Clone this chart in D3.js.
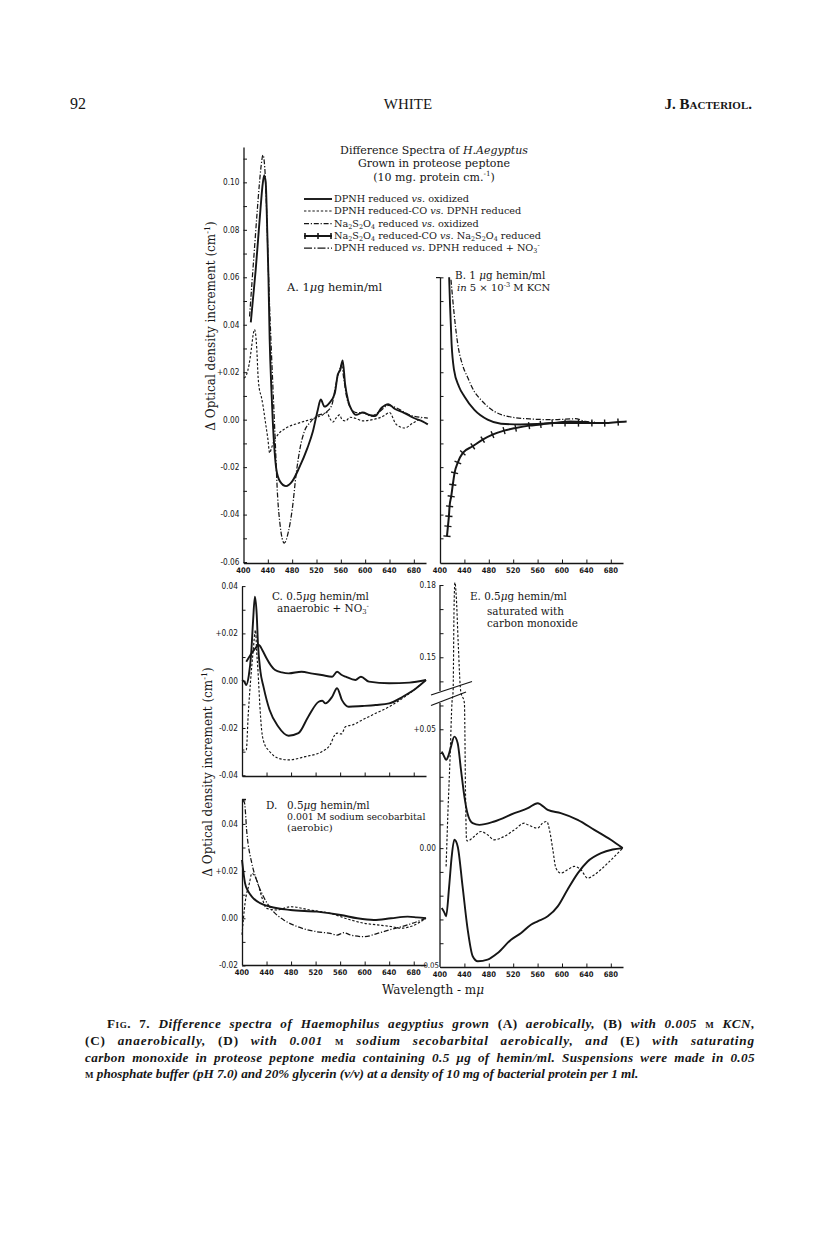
<!DOCTYPE html>
<html>
<head>
<meta charset="utf-8">
<script src="https://cdn.jsdelivr.net/npm/d3@7"></script>
<style>
  body { margin: 0; background: #fff; }
  text { fill: #161616; }
</style>
</head>
<body>
<svg id="fig" width="816" height="1249"></svg>
<script>
// ---- data (wavelength in mμ, Δ OD in cm-1) ----
// Panel A: 1 μg hemin/ml
const aSolidNm = [412, 416, 420, 424, 428, 431, 434, 436.5, 439, 441, 443, 446, 448, 451, 454, 460, 470, 480, 492, 505, 514, 522, 527, 533, 541, 550, 555, 559, 563, 567, 572, 578, 585, 596, 607, 616, 627, 638, 649, 663, 680, 695, 703];
const aSolidOD = [0.041, 0.052, 0.063, 0.076, 0.089, 0.098, 0.103, 0.100, 0.080, 0.060, 0.034, 0.012, 0.0, -0.013, -0.021, -0.026, -0.028, -0.026, -0.020, -0.012, -0.005, 0.004, 0.0085, 0.0055, 0.007, 0.011, 0.019, 0.021, 0.025, 0.015, 0.008, 0.004, 0.002, 0.003, 0.002, 0.0015, 0.005, 0.0065, 0.0045, 0.003, 0.0007, -0.0008, -0.002];
const aDithNm = [410, 414, 418, 422, 426, 429, 432, 435, 438, 441, 445, 449, 452, 456, 460, 467, 474, 480, 487, 493, 500, 510, 520, 535, 545, 552, 558, 561, 565, 570, 576, 585, 596, 610, 624, 638, 651, 673, 703];
const aDithOD = [0.0435, 0.058, 0.072, 0.086, 0.099, 0.107, 0.1115, 0.106, 0.088, 0.062, 0.034, 0.01, -0.008, -0.032, -0.044, -0.052, -0.047, -0.038, -0.022, -0.012, -0.005, -0.001, 0.0015, 0.003, 0.006, 0.015, 0.021, 0.023, 0.017, 0.009, 0.005, 0.003, 0.003, 0.0015, 0.0035, 0.006, 0.005, 0.002, 0.0007];
const aCoNm = [401, 405, 409, 413, 416, 418, 420, 422, 424, 426, 429, 432, 436, 440, 443, 446, 450, 456, 470, 490, 515, 530, 537, 542, 547, 553, 558, 562, 568, 575, 585, 596, 612, 630, 640, 651, 665, 678, 692];
const aCoOD = [0.0175, 0.019, 0.023, 0.030, 0.036, 0.038, 0.036, 0.029, 0.018, 0.013, 0.010, 0.006, -0.001, -0.008, -0.014, -0.012, -0.009, -0.0065, -0.0035, -0.0015, 0.0005, 0.002, 0.003, 0.0005, -0.001, 0.001, 0.002, 0.0, -0.0005, 0.001, 0.0005, -0.0005, 0.0, 0.0015, 0.003, -0.002, -0.0035, -0.0015, 0.0006];

// Panel B: 1 μg hemin/ml in 5 x 10-3 M KCN
const bSolidNm = [415, 416.5, 419, 423, 431, 440, 456, 478, 500, 532, 587, 613, 640];
const bSolidOD = [0.06, 0.048, 0.032, 0.021, 0.014, 0.0098, 0.0042, 0.0, -0.0017, -0.002, -0.0014, -0.0007, -0.001];
const bDithNm = [418, 423, 429, 437, 445, 456, 467, 489, 511, 548, 585, 622, 638, 654];
const bDithOD = [0.059, 0.045, 0.032, 0.023, 0.018, 0.012, 0.0084, 0.0035, 0.0014, 0.0003, 0.0, 0.0004, -0.0007, -0.001];
const bCrossNm = [411.4, 413, 414.6, 415.7, 418.4, 421, 423.9, 429.3, 437.4, 453.7, 470, 486, 505, 524, 546, 565, 584, 605, 627, 649, 670, 692, 706];
const bCrossOD = [-0.0491, -0.0449, -0.0407, -0.0365, -0.0323, -0.0274, -0.0224, -0.018, -0.014, -0.0112, -0.0084, -0.0063, -0.0046, -0.0035, -0.0025, -0.002, -0.0014, -0.0014, -0.0014, -0.0014, -0.0014, -0.001, -0.0008];

// Panel C: 0.5 μg hemin/ml anaerobic + NO3-
const cUpNm = [407, 414, 421, 427.5, 433, 440, 447, 454, 465, 476, 497, 515, 530, 547, 555, 562, 569, 585, 594, 607, 640, 673, 700];
const cUpOD = [0.008, 0.011, 0.0135, 0.0151, 0.013, 0.0095, 0.0065, 0.0045, 0.0035, 0.0031, 0.0038, 0.003, 0.0024, 0.0017, 0.0038, 0.0025, 0.0017, 0.0003, 0.0017, -0.0004, -0.0011, -0.0008, 0.0003];
const cLowNm = [400, 404, 407, 411, 415, 418, 421, 424, 426, 430, 435, 445, 459, 476, 492, 508, 525, 531, 536, 547, 555, 563, 574, 596, 618, 640, 662, 684, 700];
const cLowOD = [0.0003, -0.0005, -0.0018, 0.002, 0.0116, 0.025, 0.0355, 0.028, 0.0158, 0.004, -0.0025, -0.0124, -0.0194, -0.0233, -0.0222, -0.0152, -0.0089, -0.0085, -0.0096, -0.0068, -0.0032, -0.0082, -0.011, -0.0107, -0.0103, -0.0096, -0.0068, -0.0032, 0.0003];
const cDashNm = [400, 407, 410, 414, 418, 422, 424, 426, 429, 432, 437, 443, 459, 476, 503, 530, 544, 550, 555, 562, 569, 580, 596, 618, 640, 662, 684, 700];
const cDashOD = [-0.0293, -0.0293, -0.015, 0.0, 0.012, 0.0214, 0.012, 0.0045, -0.01, -0.0208, -0.027, -0.0293, -0.0328, -0.0335, -0.0321, -0.030, -0.027, -0.0235, -0.0222, -0.0225, -0.0194, -0.0187, -0.0166, -0.0138, -0.011, -0.0074, -0.0032, 0.0003];

// Panel D: 0.5 μg hemin/ml, 0.001 M sodium secobarbital (aerobic)
const dSolidNm = [400, 405, 410, 416, 429.5, 446, 479, 522, 561, 588, 615, 643, 670, 685, 700];
const dSolidOD = [0.0247, 0.0148, 0.0115, 0.0092, 0.0064, 0.0049, 0.0035, 0.0028, 0.0014, 0.0, -0.0007, 0.0, 0.0007, 0.0004, 0.0];
const dDashNm = [400, 405, 412, 416, 424, 432, 440, 457, 479, 511, 544, 577, 599, 621, 643, 659, 675, 700];
const dDashOD = [-0.007, 0.0064, 0.0148, 0.019, 0.0162, 0.0092, 0.0042, 0.0035, 0.0049, 0.0035, 0.0021, -0.0007, -0.0021, -0.0028, -0.0035, -0.0042, -0.0035, 0.0];
const dDithNm = [401, 404, 408, 416, 424, 435, 449, 468, 490, 522, 544, 555, 566, 577, 599, 621, 643, 670, 700];
const dDithOD = [0.05, 0.049, 0.036, 0.0233, 0.016, 0.0092, 0.0035, -0.0007, -0.0035, -0.0057, -0.0064, -0.0071, -0.0061, -0.0071, -0.0078, -0.0064, -0.0047, -0.0028, 0.0];

// Panel E: 0.5 μg hemin/ml saturated with carbon monoxide
const eDashNm = [410, 413, 416.5, 419.6, 421.5, 423, 424.5, 426.5, 430, 433.9, 440, 442, 443.5, 445, 456, 467, 478, 489, 505, 522, 538, 544, 560, 568, 575, 580, 585, 590, 598, 609, 620, 631, 642, 653, 675, 699.5];
const eDashOD = [-0.0077, 0.015, 0.038, 0.061, 0.136, 0.17, 0.181, 0.176, 0.155, 0.136, 0.061, 0.02, 0.0035, 0.003, 0.0049, 0.007, 0.0056, 0.0035, 0.0049, 0.0077, 0.0105, 0.0098, 0.0084, 0.0105, 0.0112, 0.007, -0.0007, -0.0084, -0.0105, -0.0091, -0.0077, -0.0091, -0.0126, -0.0112, -0.0063, 0.0];
const eUpNm = [402.8, 406, 410, 414, 418, 423.5, 429, 434.4, 440, 445, 453.6, 464.4, 489, 522, 544, 560, 576.6, 598, 625.7, 653, 680, 699.5];
const eUpOD = [0.0406, 0.039, 0.0371, 0.039, 0.0427, 0.0469, 0.0441, 0.0329, 0.0217, 0.0147, 0.0105, 0.0098, 0.0112, 0.0147, 0.0168, 0.0189, 0.0161, 0.0147, 0.0119, 0.0077, 0.0035, 0.0];
const eLowNm = [402.8, 407, 410, 415, 419, 423.5, 429, 437, 445.4, 453.6, 462, 478, 494.6, 516.4, 533, 549, 560, 576.6, 593, 609, 626, 642, 664, 683, 699.5];
const eLowOD = [-0.0252, -0.027, -0.0287, -0.0161, -0.004, 0.0035, 0.0007, -0.0161, -0.0343, -0.0455, -0.0476, -0.0469, -0.0441, -0.0385, -0.0357, -0.0322, -0.0308, -0.0287, -0.0245, -0.0175, -0.0105, -0.0056, -0.0021, -0.0006, 0.0];

// ticks
const wlTicks = [440, 480, 520, 560, 600, 640, 680];
const wlLabels = [400, 440, 480, 520, 560, 600, 640, 680];
const odTicksA = [-0.06, -0.05, -0.04, -0.03, -0.02, -0.01, 0, 0.01, 0.02, 0.03, 0.04, 0.05, 0.06, 0.07, 0.08, 0.09, 0.10, 0.11];
const odLabelsA = [-0.06, -0.04, -0.02, 0, 0.02, 0.04, 0.06, 0.08, 0.10];
const odTicksB = [-0.05, -0.04, -0.03, -0.02, -0.01, 0, 0.01, 0.02, 0.03, 0.04, 0.05, 0.06];
const odTicksC = [-0.04, -0.03, -0.02, -0.01, 0, 0.01, 0.02, 0.03, 0.04];
const odLabelsC = [-0.04, -0.02, 0, 0.02, 0.04];
const odTicksD = [-0.02, -0.01, 0, 0.01, 0.02, 0.03, 0.04, 0.05];
const odLabelsD = [-0.02, 0, 0.02, 0.04];
const odTicksE = [-0.05, -0.04, -0.03, -0.02, -0.01, 0, 0.01, 0.02, 0.03, 0.04, 0.05, 0.06, 0.14, 0.15, 0.16, 0.17, 0.18];
const odLabelsE = [-0.05, 0, 0.05, 0.15, 0.18];

const legendNames = ["DPNH reduced vs. oxidized", "DPNH reduced-CO vs. DPNH reduced", "Na2S2O4 reduced vs. oxidized",
  "Na2S2O4 reduced-CO vs. Na2S2O4 reduced", "DPNH reduced vs. DPNH reduced + NO3-"];

// ---- drawing ----
const svg = d3.select("#fig");
const ink = "#161616";
const serif = "'DejaVu Serif', serif";
const numFont = "'DejaVu Sans Condensed', 'DejaVu Sans', sans-serif";

const styles = {
  solid: { w: 1.9, dash: null },
  co:    { w: 1.15, dash: "2.4,1.8" },
  dith:  { w: 1.25, dash: "5,1.8,1.2,1.8" },
  no3:   { w: 1.25, dash: "8,2,1.5,2" },
  cross: { w: 2, dash: null }
};

const xA = d3.scaleLinear().domain([400, 700]).range([243.5, 426]);
const xB = d3.scaleLinear().domain([400, 700]).range([440, 623]);
const xC = d3.scaleLinear().domain([400, 700]).range([242, 426]);
const yA = d3.scaleLinear().domain([-0.0604, 0.1149]).range([563, 147]);
const yB = d3.scaleLinear().domain([-0.0604, 0.0601]).range([563, 277.1]);
const yC = d3.scaleLinear().domain([-0.0403, 0.04]).range([776, 586.1]);
const yD = d3.scaleLinear().domain([-0.0198, 0.0506]).range([965, 798.9]);
const yE = d3.scaleLinear().domain([-0.05, 0.061, 0.136, 0.182]).range([967, 703.1, 691, 580.2]);

function curve(x, y, nm, od, st) {
  const line = d3.line().x(d => x(d[0])).y(d => y(d[1])).curve(d3.curveMonotoneX);
  svg.append("path")
    .attr("d", line(d3.zip(nm, od)))
    .attr("fill", "none")
    .attr("stroke", ink)
    .attr("stroke-width", st.w)
    .attr("stroke-linejoin", "round")
    .attr("stroke-dasharray", st.dash);
}

function crossMarks(x, y, nm, od) {
  const pts = d3.zip(nm, od).map(d => [x(d[0]), y(d[1])]);
  pts.slice(0, -1).forEach((p, i) => {
    const a = pts[Math.max(0, i - 1)], b = pts[i + 1];
    const dx = b[0] - a[0], dy = b[1] - a[1];
    const len = Math.hypot(dx, dy) || 1;
    const nx = -dy / len * 3.6, ny = dx / len * 3.6;
    svg.append("line")
      .attr("x1", p[0] - nx).attr("y1", p[1] - ny)
      .attr("x2", p[0] + nx).attr("y2", p[1] + ny)
      .attr("stroke", ink).attr("stroke-width", 1.4);
  });
}

function fmtOD(v) {
  if (Math.abs(v) < 1e-9) return "0.00";
  const s = Math.abs(v).toFixed(2);
  if (v < 0) return "-" + s;
  return (Math.abs(v - 0.02) < 1e-9 || Math.abs(v - 0.05) < 1e-9) ? "+" + s : s;
}

function yAxis(x0, y, ticks, labels, drawDomain) {
  const g = svg.append("g").attr("transform", `translate(${x0},0)`)
    .call(d3.axisLeft(y).tickValues(ticks).tickSizeInner(-3.5).tickSizeOuter(0).tickFormat(""));
  g.selectAll("line").attr("stroke", ink).attr("stroke-width", 1);
  if (drawDomain) g.select(".domain").attr("stroke", ink).attr("stroke-width", 1.3);
  else g.select(".domain").remove();
  svg.append("g").selectAll("text").data(labels).join("text")
    .attr("x", x0 - 4).attr("y", d => y(d)).attr("dy", "0.35em")
    .attr("text-anchor", "end").attr("font-family", numFont).attr("font-size", 8.2)
    .text(fmtOD);
}

function xAxis(y0, x, labelled) {
  const g = svg.append("g").attr("transform", `translate(0,${y0})`)
    .call(d3.axisBottom(x).tickValues(wlTicks).tickSizeInner(-3.5).tickSizeOuter(0).tickFormat(""));
  g.selectAll("line").attr("stroke", ink).attr("stroke-width", 1);
  g.select(".domain").attr("stroke", ink).attr("stroke-width", 1.3);
  if (labelled) {
    svg.append("g").selectAll("text").data(wlLabels).join("text")
      .attr("x", d => x(d)).attr("y", y0 + 9.5)
      .attr("text-anchor", "middle").attr("font-family", numFont)
      .attr("font-size", 7.6).attr("font-weight", "bold")
      .text(d => d);
  }
}

function rich(sel, parts, size) {
  let shift = 0;
  parts.forEach(p => {
    const [s, k] = typeof p === "string" ? [p, ""] : p;
    const target = k === "sub" ? 0.22 * size : k === "sup" ? -0.4 * size : 0;
    const ts = sel.append("tspan").text(s).attr("dy", target - shift);
    shift = target;
    if (k === "sub" || k === "sup") ts.attr("font-size", size * 0.66);
    if (k === "i") ts.attr("font-style", "italic");
    if (k === "sc") ts.attr("font-variant", "small-caps").attr("font-style", "normal");
    if (k === "r") ts.attr("font-style", "normal");
  });
  return sel;
}

function label(x, y, parts, size, opts = {}) {
  const t = svg.append("text").attr("x", x).attr("y", y)
    .attr("font-family", opts.family || serif).attr("font-size", size)
    .attr("text-anchor", opts.anchor || "start");
  if (opts.style) t.attr("font-style", opts.style);
  if (opts.weight) t.attr("font-weight", opts.weight);
  if (opts.rotate) t.attr("transform", `rotate(-90,${x},${y})`);
  rich(t, parts, size);
  if (opts.justify) {
    // justify: half of the extra room goes between letters, half into word gaps
    const natural = t.node().getComputedTextLength();
    const str = t.text();
    const gaps = (str.match(/ /g) || []).length;
    const extra = opts.justify - natural;
    const ls = extra * 0.45 / (str.length - 1);
    t.attr("letter-spacing", ls);
    const after = t.node().getComputedTextLength();
    if (gaps) t.attr("word-spacing", (opts.justify - after) / gaps);
  }
  return t;
}

// axes
yAxis(243.5, yA, odTicksA, odLabelsA, true);
xAxis(563, xA, true);
yAxis(440, yB, odTicksB, [], true);
xAxis(563, xB, true);
yAxis(242, yC, odTicksC, odLabelsC, true);
xAxis(776, xC, false);
yAxis(242, yD, odTicksD, odLabelsD, true);
xAxis(965, xC, true);
yAxis(440, yE, odTicksE, odLabelsE.filter(v => v !== -0.05), false);
xAxis(967, xB, true);
// lowest E label sits just above the shared baseline
svg.append("text").attr("x", 439).attr("y", yE(-0.05) + 1)
  .attr("text-anchor", "end").attr("font-family", numFont).attr("font-size", 7.8)
  .text(fmtOD(-0.05));

// broken axis in E
[[yE(0.061), yE(-0.05)], [yE(0.18), yE(0.136)]].forEach(s => {
  svg.append("line").attr("x1", 440).attr("x2", 440).attr("y1", s[0]).attr("y2", s[1])
    .attr("stroke", ink).attr("stroke-width", 1.3);
});
[[431, 695, 472, 681.5], [431, 705.5, 466, 692]].forEach(s => {
  svg.append("line").attr("x1", s[0]).attr("y1", s[1]).attr("x2", s[2]).attr("y2", s[3])
    .attr("stroke", ink).attr("stroke-width", 1.3);
});
// small hooks at axis tops
svg.append("line").attr("x1", 436).attr("x2", 440).attr("y1", 277.6).attr("y2", 277.6).attr("stroke", ink).attr("stroke-width", 1.2);
svg.append("line").attr("x1", 242).attr("x2", 246).attr("y1", 799.4).attr("y2", 799.4).attr("stroke", ink).attr("stroke-width", 1.2);

// curves
curve(xA, yA, aCoNm, aCoOD, styles.co);
curve(xA, yA, aDithNm, aDithOD, styles.dith);
curve(xA, yA, aSolidNm, aSolidOD, styles.solid);

curve(xB, yB, bDithNm, bDithOD, styles.dith);
curve(xB, yB, bSolidNm, bSolidOD, styles.solid);
curve(xB, yB, bCrossNm, bCrossOD, styles.cross);
crossMarks(xB, yB, bCrossNm, bCrossOD);

curve(xC, yC, cDashNm, cDashOD, styles.co);
curve(xC, yC, cUpNm, cUpOD, styles.solid);
curve(xC, yC, cLowNm, cLowOD, styles.solid);

curve(xC, yD, dDithNm, dDithOD, styles.dith);
curve(xC, yD, dDashNm, dDashOD, styles.co);
curve(xC, yD, dSolidNm, dSolidOD, styles.solid);

curve(xB, yE, eDashNm, eDashOD, styles.co);
curve(xB, yE, eUpNm, eUpOD, styles.solid);
curve(xB, yE, eLowNm, eLowOD, styles.solid);

// title and legend
label(434, 154, ["Difference Spectra of ", ["H.Aegyptus", "i"]], 11, { anchor: "middle" });
label(434, 167, ["Grown in proteose peptone"], 11, { anchor: "middle" });
label(434, 180.5, ["(10 mg. protein cm.", ["-1", "sup"], ")"], 11, { anchor: "middle" });

const legendStyles = [styles.solid, styles.co, styles.dith, styles.cross, styles.no3];
const legendParts = [
  ["DPNH reduced ", ["vs.", "i"], " oxidized"],
  ["DPNH reduced-CO ", ["vs.", "i"], " DPNH reduced"],
  ["Na", ["2", "sub"], "S", ["2", "sub"], "O", ["4", "sub"], "  reduced ", ["vs.", "i"], " oxidized"],
  ["Na", ["2", "sub"], "S", ["2", "sub"], "O", ["4", "sub"], "  reduced-CO ", ["vs.", "i"], " Na", ["2", "sub"], "S", ["2", "sub"], "O", ["4", "sub"], " reduced"],
  ["DPNH reduced ", ["vs.", "i"], " DPNH reduced + NO", ["3", "sub"], ["-", "sup"]]
];
const legY = [199, 211, 223.5, 236, 248];
legendNames.forEach((name, i) => {
  const st = legendStyles[i];
  svg.append("path").attr("d", `M304,${legY[i]}H332`).attr("stroke", ink)
    .attr("stroke-width", st.w).attr("stroke-dasharray", st.dash).attr("fill", "none");
  if (i === 3) {
    [305, 318, 331].forEach(x => svg.append("line").attr("x1", x).attr("x2", x)
      .attr("y1", legY[i] - 3).attr("y2", legY[i] + 3).attr("stroke", ink).attr("stroke-width", 1.6));
  }
  label(334, legY[i] + 3.2, legendParts[i], 9.7);
});

// panel labels
label(287, 291, ["A. 1", ["μ", "i"], "g hemin/ml"], 11.4);
label(455, 279, ["B. 1 ", ["μ", "i"], "g hemin/ml"], 10.4);
label(457, 291, [["in", "i"], " 5 × 10", ["-3", "sup"], " M KCN"], 10);
label(272, 600, ["C. 0.5", ["μ", "i"], "g hemin/ml"], 10.4);
label(277, 612, ["anaerobic  + NO", ["3", "sub"], ["-", "sup"]], 10.4);
label(470, 600, ["E. 0.5", ["μ", "i"], "g hemin/ml"], 10.4);
label(487, 615, ["saturated with"], 10.4);
label(487, 627, ["carbon monoxide"], 10.4);
label(266, 809, ["D."], 10.4);
label(287, 809, ["0.5", ["μ", "i"], "g hemin/ml"], 10.4);
label(287, 820, ["0.001 M sodium secobarbital"], 9.4);
label(287, 831, ["(aerobic)"], 10);

// axis titles
label(215, 326, ["Δ Optical density increment (cm", ["-1", "sup"], ")"], 12, { anchor: "middle", rotate: true });
label(212, 772, ["Δ Optical density increment (cm", ["-1", "sup"], ")"], 12, { anchor: "middle", rotate: true });
label(433, 994, ["Wavelength - m", ["μ", "i"]], 12, { anchor: "middle" });

// running head
const headFont = "'Liberation Serif', serif";
label(70, 109, ["92"], 16, { family: headFont });
label(408, 109, ["WHITE"], 15, { family: headFont, anchor: "middle" });
label(752, 109, [["J. Bacteriol.", "sc"]], 15, { family: headFont, anchor: "end", weight: "bold" });

// caption
const capLines = [
  { x: 107, w: 648, parts: [["Fig. 7. ", "sc"], ["Difference spectra of Haemophilus aegyptius grown ", "i"], ["(A) ", "r"], ["aerobically, ", "i"], ["(B) ", "r"], ["with 0.005 ", "i"], ["m ", "sc"], ["KCN,", "i"]] },
  { x: 85, w: 670, parts: [["(C) ", "r"], ["anaerobically, ", "i"], ["(D) ", "r"], ["with 0.001 ", "i"], ["m ", "sc"], ["sodium secobarbital aerobically, and ", "i"], ["(E) ", "r"], ["with saturating", "i"]] },
  { x: 85, w: 670, parts: [["carbon monoxide in proteose peptone media containing 0.5 μg of hemin/ml. Suspensions were made in 0.05", "i"]] },
  { x: 85, w: null, parts: [["m ", "sc"], ["phosphate buffer (pH 7.0) and 20% glycerin (v/v) at a density of 10 mg of bacterial protein per 1 ml.", "i"]] }
];
const capY = [1028, 1045, 1061.5, 1078];
capLines.forEach((l, i) => {
  label(l.x, capY[i], l.parts, 13.2, { family: "'Liberation Serif', serif", justify: l.w, style: "italic", weight: "bold" });
});
</script>
</body>
</html>
